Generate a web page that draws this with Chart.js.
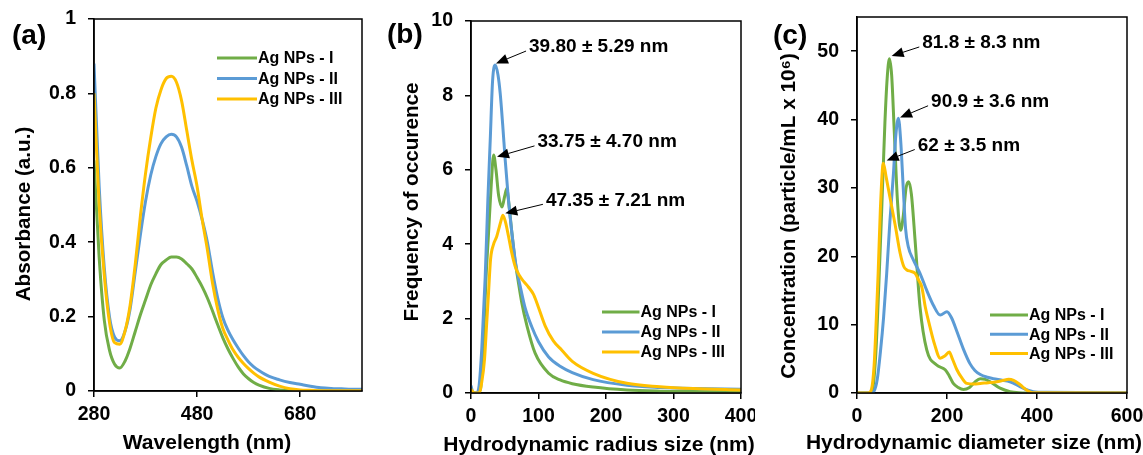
<!DOCTYPE html>
<html>
<head>
<meta charset="utf-8">
<script src="https://cdn.jsdelivr.net/npm/chart.js@4.4.0/dist/chart.umd.min.js"></script>
<style>
  body { margin: 0; background: #fff; width: 1143px; height: 455px; overflow: hidden; position: relative; }
  canvas { position: absolute; top: 0; }
</style>
</head>
<body>
<canvas id="chartA" width="375" height="455" style="left:0"></canvas>
<canvas id="chartB" width="375" height="455" style="left:380px"></canvas>
<canvas id="chartC" width="383" height="455" style="left:760px"></canvas>
<script>
// ---- data ----
const seriesNames = ['Ag NPs - I', 'Ag NPs - II', 'Ag NPs - III'];
const seriesColors = ['#70AD47', '#5B9BD5', '#FFC000'];

// (a) UV-vis
const wavelength = [280,290,300,310,320,330,340,350,360,370,380,390,400,410,420,430,440,450,460,470,480,490,500,510,520,530,540,550,560,570,580,590,600,620,640,660,680,700,720,740,760,780,800];
const absI   = [.62,.36,.19,.11,.072,.062,.08,.115,.16,.205,.245,.285,.315,.34,.352,.36,.36,.355,.342,.328,.305,.28,.25,.215,.178,.143,.113,.087,.064,.046,.033,.023,.016,.007,.003,.001,0,0,0,0,0,0,0];
const absII  = [.88,.55,.33,.2,.145,.135,.16,.22,.32,.42,.51,.58,.63,.665,.683,.69,.683,.655,.605,.55,.51,.46,.40,.32,.25,.197,.163,.137,.115,.095,.078,.065,.055,.039,.03,.023,.018,.013,.009,.007,.006,.005,.005];
const absIII = [.80,.50,.31,.185,.13,.126,.16,.23,.34,.47,.585,.68,.76,.81,.84,.846,.83,.78,.70,.62,.55,.46,.38,.29,.22,.168,.137,.11,.09,.074,.06,.048,.038,.024,.013,.006,.003,.002,.001,.001,.001,.001,.001];
const wavelengthTicks = [280, 480, 680];
const absTicks = [0, 0.2, 0.4, 0.6, 0.8, 1];

// (b) DLS radius
const radiusI   = [0,3,8,14,18,22,26,30,33.5,37,41,46,50,53,56,60,65,70,75,83,95,115,132,150,181,231,280,330,400];
const freqI     = [0.1,0,0,0.1,1.2,3.0,4.3,5.6,6.4,6.0,5.3,5.0,5.3,5.5,5.1,4.4,3.6,3.0,2.45,1.8,1.07,0.53,0.35,0.25,0.16,0.08,0.05,0.04,0.03];
const radiusII  = [0,3,8,12,16,21,25,28.5,32,36,40,43.3,47,50.7,55,60.6,66,73,80,90,100,115,132,150,181,231,280,329,400];
const freqII    = [0.2,0,0,0.2,1.2,3.1,5.2,6.8,8.4,8.82,8.55,8.05,7.2,6.26,5.3,4.3,3.5,2.86,2.3,1.78,1.38,0.97,0.72,0.55,0.36,0.21,0.15,0.12,0.1];
const radiusIII = [0,5,12,16,20,23,26,29,33.5,38,41,44,47.3,51,55.7,60,65.5,72,78,85,92.6,100,110,122,134.6,150,181,231,280,329,400];
const freqIII   = [0.1,0,0,0.3,0.9,1.8,2.7,3.6,4.0,4.2,4.4,4.6,4.78,4.6,4.2,3.8,3.4,3.15,3.0,2.85,2.65,2.3,1.8,1.4,1.15,0.85,0.53,0.26,0.17,0.12,0.08];
const radiusTicks = [0, 100, 200, 300, 400];
const freqTicks = [0, 2, 4, 6, 8, 10];

// (c) NTA diameter
const diamI   = [0,30,36,42,48,55,62,67,72,77,83,90,97,103,109,115,121,129,140,155,177,196,205,214,225,236.5,250,262,274,285,296,318,340,360,400,600];
const concI   = [0,0,1,6,15,27,39.5,46,48.9,46.5,38,28,23.8,26,30,30.9,29,22.4,12.6,6.3,4.1,3.4,2.5,1.4,0.8,0.5,0.8,1.6,2.1,2.0,1.65,0.7,0.2,0.05,0,0];
const diamII  = [0,30,38,45,52,59,66,73,81,86,92,97,103,108,114,125,140,155,170,185,200,210,222,236,251,262,274,290,303,320,340,363,380,392,420,600];
const concII  = [0,0,0.3,2,6,11,17.5,25,32.1,37.5,40.2,37,29.7,24,21.4,19.5,17.5,15,12.8,11.4,11.9,11,9,6.5,4.3,3.3,2.7,2.3,2.1,1.9,1.65,0.9,0.4,0.2,0.1,0.05];
const diamIII = [0,25,32,38,43,47,52,58.5,65,73,85,96,104,110.6,120,129,137,144,152,162,172,185,195,205,212,222,233,244,260,274,292,311,325,337,348,359,368,377.5,390,600];
const concIII = [0,0,0.5,4,11,17.5,27,33.6,31.5,28.7,24.5,20.4,18.5,18,17.8,17.5,16.5,15.5,12.5,9.7,7.2,5.1,5.4,6.0,5.0,3.4,2.2,1.4,1.3,1.4,1.5,1.65,1.85,2.0,1.85,1.4,0.9,0.4,0.05,0];
const diamTicks = [0, 200, 400, 600];
const concTicks = [0, 10, 20, 30, 40, 50];

const notesB = [
  { text: '39.80 \u00b1 5.29 nm', at: [86, 9.3],    tip: [37, 8.86] },
  { text: '33.75 \u00b1 4.70 nm', at: [98.5, 6.75], tip: [38.5, 6.35] },
  { text: '47.35 \u00b1 7.21 nm', at: [111, 5.18],  tip: [50.8, 4.83] }
];
const notesC = [
  { text: '81.8 \u00b1 8.3 nm', at: [145, 51.2],   tip: [77, 49.3] },
  { text: '90.9 \u00b1 3.6 nm', at: [164.6, 42.6], tip: [95.7, 40.3] },
  { text: '62 \u00b1 3.5 nm',   at: [135, 36.2],   tip: [66, 34] }
];

// ---- drawing ----
const FONT = '"Liberation Sans", Arial, Helvetica, sans-serif';
Chart.defaults.font.family = FONT;
Chart.defaults.font.weight = 'bold';
Chart.defaults.color = '#000';

// frame, axis titles, legend, panel tag and arrows
const deco = {
  id: 'deco',
  afterDatasetsDraw(chart, args, o) {
    const { ctx, chartArea: a, scales: { x, y } } = chart;
    ctx.save();
    ctx.strokeStyle = '#000';
    ctx.lineWidth = 1.5;
    ctx.strokeRect(a.left, a.top, a.right - a.left, a.bottom - a.top);

    ctx.fillStyle = '#000';
    ctx.textBaseline = 'middle';

    // axis titles (Excel centres them on plot + labels, and lets them run past the plot)
    ctx.font = 'bold 21px ' + FONT;
    ctx.textAlign = 'center';
    ctx.fillText(o.xTitle, o.xTitlePos[0], o.xTitlePos[1]);
    ctx.save();
    ctx.translate(o.yTitlePos[0], o.yTitlePos[1]);
    ctx.rotate(-Math.PI / 2);
    ctx.font = 'bold 20.7px ' + FONT;
    ctx.fillText(o.yTitle, 0, 0);
    ctx.restore();

    ctx.textAlign = 'left';
    ctx.font = 'bold 19px ' + FONT;
    (o.notes || []).forEach(n => {
      const tx = x.getPixelForValue(n.at[0]), ty = y.getPixelForValue(n.at[1]);
      const px = x.getPixelForValue(n.tip[0]), py = y.getPixelForValue(n.tip[1]);
      ctx.fillText(n.text, tx, ty);
      const sx = tx - 3, sy = ty + 4;
      const ang = Math.atan2(py - sy, px - sx);
      const len = 12, hw = 5;
      const bx = px - len * Math.cos(ang), by = py - len * Math.sin(ang);
      ctx.lineWidth = 1;
      ctx.beginPath(); ctx.moveTo(sx, sy); ctx.lineTo(bx, by); ctx.stroke();
      ctx.beginPath();
      ctx.moveTo(px, py);
      ctx.lineTo(bx + hw * Math.sin(ang), by - hw * Math.cos(ang));
      ctx.lineTo(bx - hw * Math.sin(ang), by + hw * Math.cos(ang));
      ctx.closePath(); ctx.fill();
    });

    const L = o.legend;
    const lx = a.right + L.x;
    const ly = L.fromBottom ? a.bottom - L.y : a.top + L.y;
    ctx.font = 'bold 16px ' + FONT;
    chart.data.datasets.forEach((ds, i) => {
      const yy = ly + i * L.step;
      ctx.strokeStyle = ds.borderColor;
      ctx.lineWidth = 3;
      ctx.beginPath(); ctx.moveTo(lx, yy); ctx.lineTo(lx + L.len, yy); ctx.stroke();
      ctx.fillText(ds.label, lx + L.len + 1, yy + 1);
    });

    ctx.font = 'bold 28px ' + FONT;
    ctx.fillText(o.tag, o.tagX, o.tagY);
    ctx.restore();
  }
};

function panel(id, p) {
  return new Chart(document.getElementById(id), {
    type: 'line',
    data: {
      datasets: p.series.map((s, i) => ({
        label: seriesNames[i],
        data: s[0].map((v, k) => ({ x: v, y: s[1][k] })),
        borderColor: seriesColors[i],
        borderWidth: 3,
        pointRadius: 0,
        fill: false,
        cubicInterpolationMode: 'monotone',
        order: 3 - i
      }))
    },
    options: {
      responsive: false,
      animation: false,
      layout: { padding: { top: p.padTop, right: p.padRight, left: 0, bottom: 0 } },
      plugins: {
        legend: { display: false },
        tooltip: { enabled: false },
        deco: {
          notes: p.notes, legend: p.legend, tag: p.tag, tagX: p.tagX, tagY: p.tagY,
          xTitle: p.xTitle, xTitlePos: p.xTitlePos, yTitle: p.yTitle, yTitlePos: p.yTitlePos
        }
      },
      scales: {
        x: {
          type: 'linear', min: p.xMin, max: p.xMax,
          afterBuildTicks: s => { s.ticks = p.xTicks.map(v => ({ value: v })); },
          afterFit: s => { s.height = p.xAxisHeight; s.paddingLeft = 0; s.paddingRight = 0; },
          ticks: { font: { size: 19.5, weight: 'bold' }, color: '#000', padding: 6, maxRotation: 0, callback: v => String(v) },
          grid: { drawOnChartArea: false, drawTicks: true, tickLength: 6, color: '#000', lineWidth: 1.5 },
          border: { color: '#000', width: 1.5 }
        },
        y: {
          type: 'linear', min: p.yMin, max: p.yMax,
          afterBuildTicks: s => { s.ticks = p.yTicks.map(v => ({ value: v })); },
          afterFit: s => { s.width = p.yAxisWidth; s.paddingTop = 0; s.paddingBottom = 0; },
          ticks: { font: { size: 19.5, weight: 'bold' }, color: '#000', padding: 12, callback: v => String(v) },
          grid: { drawOnChartArea: false, drawTicks: true, tickLength: 6, color: '#000', lineWidth: 1.5 },
          border: { color: '#000', width: 1.5 }
        }
      }
    },
    plugins: [deco]
  });
}

panel('chartA', {
  series: [[wavelength, absI], [wavelength, absII], [wavelength, absIII]],
  xMin: 280, xMax: 800, yMin: 0, yMax: 1,
  xTicks: wavelengthTicks, yTicks: absTicks,
  xTitle: 'Wavelength (nm)', yTitle: 'Absorbance (a.u.)',
  xTitlePos: [207, 443], yTitlePos: [24, 214],
  yAxisWidth: 94, xAxisHeight: 64, padTop: 19, padRight: 13,
  legend: { x: -145, y: 39, fromBottom: false, step: 20.5, len: 40 },
  tag: '(a)', tagX: 12, tagY: 36, notes: []
});

panel('chartB', {
  series: [[radiusI, freqI], [radiusII, freqII], [radiusIII, freqIII]],
  xMin: 0, xMax: 400, yMin: 0, yMax: 10,
  xTicks: radiusTicks, yTicks: freqTicks,
  xTitle: 'Hydrodynamic radius size (nm)', yTitle: 'Frequency of occurence',
  xTitlePos: [219, 445], yTitlePos: [32, 202],
  yAxisWidth: 91, xAxisHeight: 62, padTop: 21, padRight: 14,
  legend: { x: -139, y: 81, fromBottom: true, step: 20, len: 37.5 },
  tag: '(b)', tagX: 7, tagY: 35, notes: notesB
});

panel('chartC', {
  series: [[diamI, concI], [diamII, concII], [diamIII, concIII]],
  xMin: 0, xMax: 600, yMin: 0, yMax: 55,
  xTicks: diamTicks, yTicks: concTicks,
  xTitle: 'Hydrodynamic diameter size (nm)', yTitle: 'Concentration (particle/mL x 10\u2076)',
  xTitlePos: [214, 443], yTitlePos: [29, 216],
  yAxisWidth: 97, xAxisHeight: 62, padTop: 17, padRight: 16,
  legend: { x: -137, y: 78, fromBottom: true, step: 19.2, len: 38 },
  tag: '(c)', tagX: 13, tagY: 36, notes: notesC
});
</script>
</body>
</html>
